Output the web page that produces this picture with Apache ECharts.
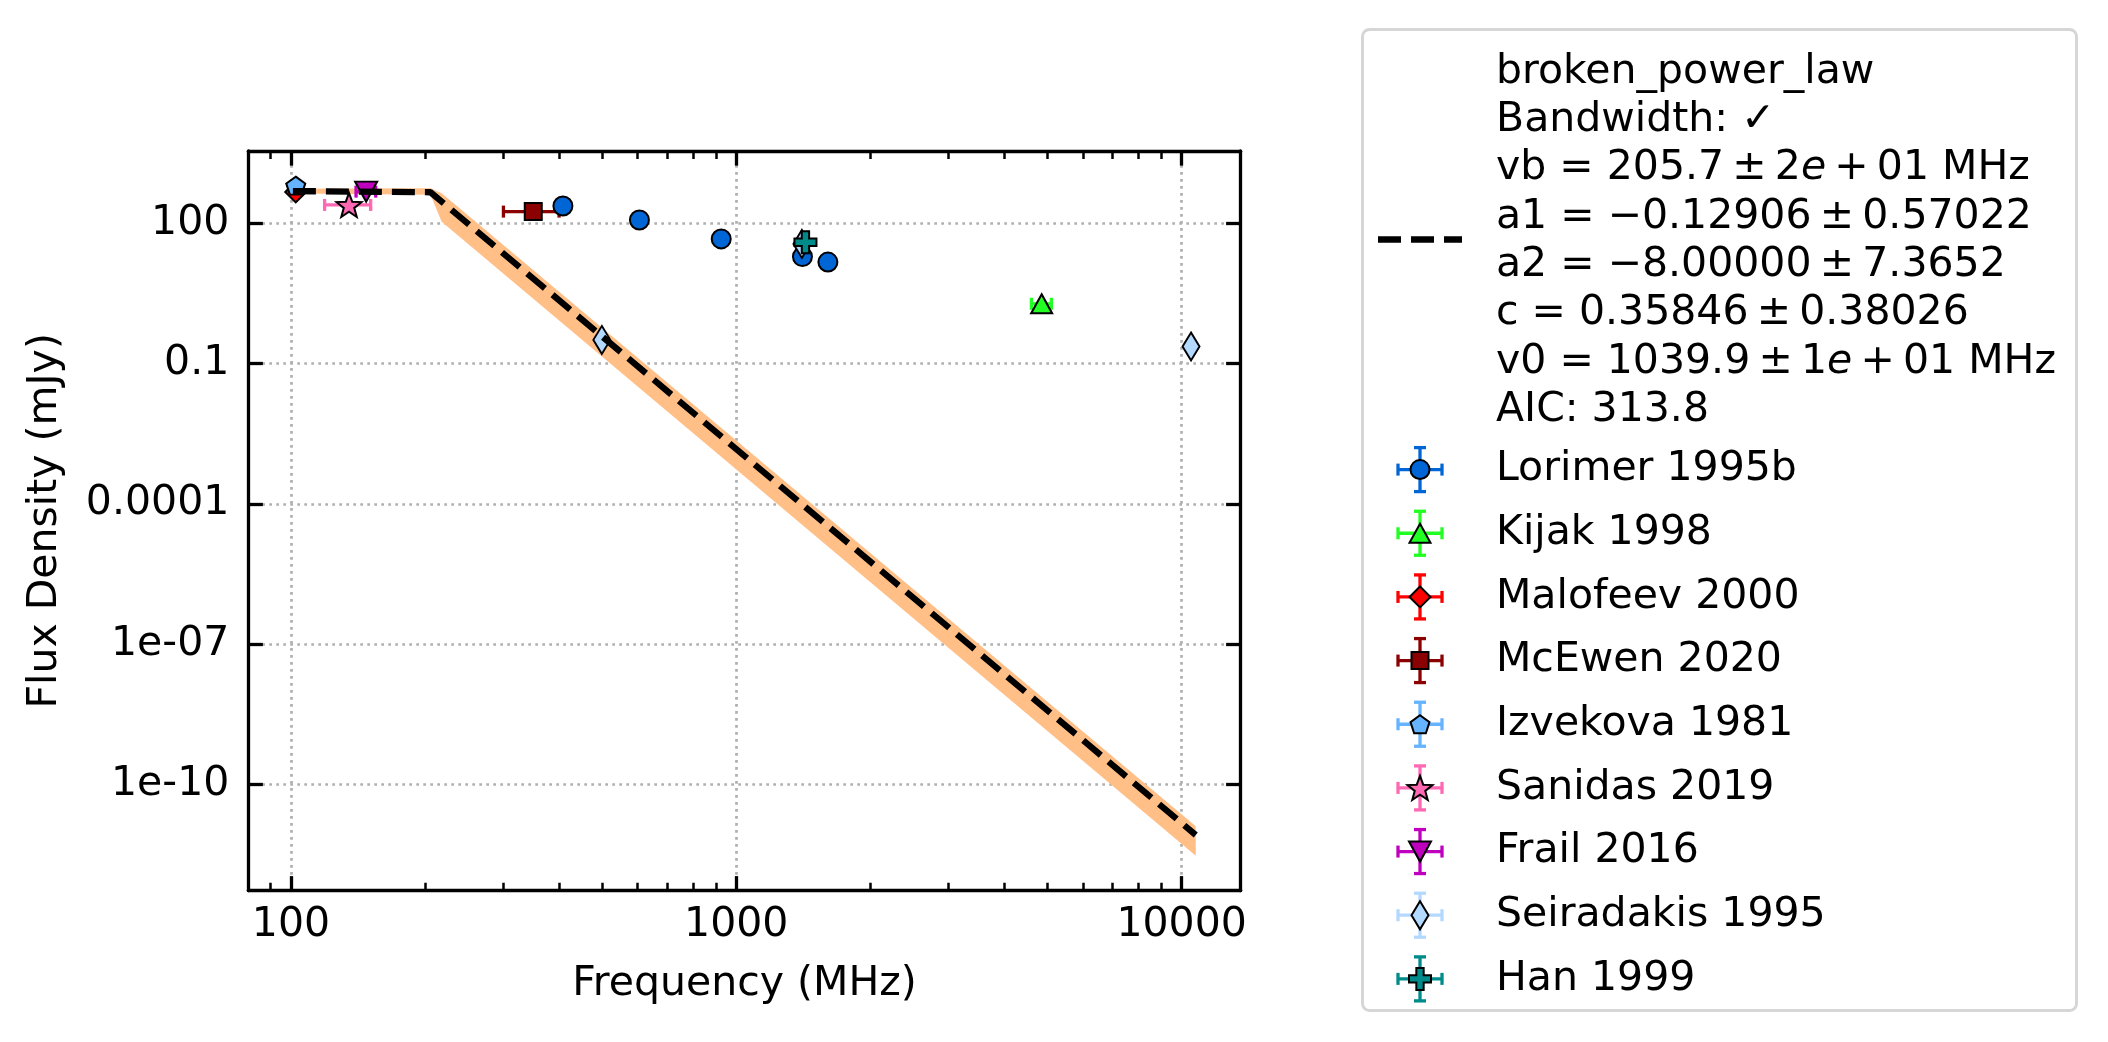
<!DOCTYPE html>
<html>
<head>
<meta charset="utf-8">
<title>broken_power_law fit</title>
<script src="https://cdn.jsdelivr.net/npm/echarts@6/dist/echarts.min.js"></script>
<style>
    html, body { margin: 0; padding: 0; background: #fff; }
    #ecSpectrum { width: 2108px; height: 1042px; }
</style>
</head>
<body>
<div id="ecSpectrum"></div>
<script>
// axis ticks
var xTickValues = [100, 1000, 10000];
var xTickLabels = ['100', '1000', '10000'];
var xMinorTicks = [90, 200, 300, 400, 500, 600, 700, 800, 900,
    2000, 3000, 4000, 5000, 6000, 7000, 8000, 9000];
var yTickValues = [100, 0.1, 0.0001, 1e-7, 1e-10];
var yTickLabels = ['100', '0.1', '0.0001', '1e-07', '1e-10'];

// fitted model and its uncertainty band
var fitFreq = [101, 205.7, 10760];
var fitFlux = [490, 462, 8.25e-12];
var bandFreq = [101, 205.7, 218, 10760];
var bandLow = [437, 407, 108.6, 2.95e-12];
var bandHigh = [550, 562, 440, 1.26e-11];

var fitLabel = [
    'broken_power_law',
    'Bandwidth: \u2713',
    'vb = 205.7\u2009\u00b1\u20092{i|e}\u2009+\u200901 MHz',
    'a1 = \u22120.12906\u2009\u00b1\u20090.57022',
    'a2 = \u22128.00000\u2009\u00b1\u20097.3652',
    'c = 0.35846\u2009\u00b1\u20090.38026',
    'v0 = 1039.9\u2009\u00b1\u20091{i|e}\u2009+\u200901 MHz',
    'AIC: 313.8'
];

// measurements (MHz, mJy)
var lorimerFreq = [408, 606, 925, 1408, 1606];
var lorimerFlux = [235, 118, 46.4, 19.4, 14.8];
var kijakFreq = [4850];
var kijakFlux = [1.9];
var kijakFreqErr = [250];
var malofeevFreq = [102.5];
var malofeevFlux = [469];
var mcewenFreq = [350];
var mcewenFlux = [178];
var mcewenFreqErr = [50];
var izvekovaFreq = [102.5];
var izvekovaFlux = [640];
var sanidasFreq = [135];
var sanidasFlux = [247];
var sanidasFreqErr = [16];
var frailFreq = [147.5];
var frailFlux = [476];
var frailFreqErr = [7.5];
var seiradakisFreq = [499, 1404, 10500];
var seiradakisFlux = [0.32, 36.3, 0.232];
var hanFreq = [1430];
var hanFlux = [39.4];

var datasets = [
    {name: 'Lorimer 1995b', freq: lorimerFreq, flux: lorimerFlux, color: '#0066d6', shape: 'circle', size: [19, 19]},
    {name: 'Kijak 1998', freq: kijakFreq, flux: kijakFlux, freqErr: kijakFreqErr, color: '#22ff22', shape: 'triUp', size: [21, 19]},
    {name: 'Malofeev 2000', freq: malofeevFreq, flux: malofeevFlux, color: '#ff0000', shape: 'diamond', size: [21, 21]},
    {name: 'McEwen 2020', freq: mcewenFreq, flux: mcewenFlux, freqErr: mcewenFreqErr, color: '#8b0000', shape: 'square', size: [17, 17]},
    {name: 'Izvekova 1981', freq: izvekovaFreq, flux: izvekovaFlux, color: '#66b3ff', shape: 'pentagon', size: [19, 18]},
    {name: 'Sanidas 2019', freq: sanidasFreq, flux: sanidasFlux, freqErr: sanidasFreqErr, color: '#ff69b4', shape: 'star', size: [25, 24]},
    {name: 'Frail 2016', freq: frailFreq, flux: frailFlux, freqErr: frailFreqErr, color: '#bf00bf', shape: 'triDown', size: [22, 20]},
    {name: 'Seiradakis 1995', freq: seiradakisFreq, flux: seiradakisFlux, color: '#b3d9ff', shape: 'diamond', size: [17, 28]},
    {name: 'Han 1999', freq: hanFreq, flux: hanFlux, color: '#008b8b', shape: 'plus', size: [22, 22]}
];

var FONT = 'DejaVu Sans';
var FS = 41;

function unitPoints(shape) {
    var pts = [], k, a, r;
    if (shape === 'triUp') return [[0, -1], [1, 1], [-1, 1]];
    if (shape === 'triDown') return [[-1, -1], [1, -1], [0, 1]];
    if (shape === 'diamond') return [[0, -1], [1, 0], [0, 1], [-1, 0]];
    if (shape === 'square') return [[-1, -1], [1, -1], [1, 1], [-1, 1]];
    if (shape === 'plus') {
        var t = 1 / 3;
        return [[-t, -1], [t, -1], [t, -t], [1, -t], [1, t], [t, t], [t, 1], [-t, 1], [-t, t], [-1, t], [-1, -t], [-t, -t]];
    }
    if (shape === 'pentagon') {
        for (k = 0; k < 5; k++) {
            a = (-90 + 72 * k) * Math.PI / 180;
            pts.push([Math.cos(a), Math.sin(a)]);
        }
        return pts;
    }
    if (shape === 'star') {
        for (k = 0; k < 10; k++) {
            a = (-90 + 36 * k) * Math.PI / 180;
            r = k % 2 === 0 ? 1 : 0.42;
            pts.push([r * Math.cos(a), r * Math.sin(a)]);
        }
        return pts;
    }
    return pts;
}

function symbolFor(shape) {
    if (shape === 'circle') return 'circle';
    var pts = unitPoints(shape);
    return 'path://M' + pts.map(function (p) {
        return (p[0] * 100).toFixed(2) + ',' + (p[1] * 100).toFixed(2);
    }).join('L') + 'Z';
}

function fitPoints(pts, cx, cy, w, h) {
    var xs = pts.map(function (p) { return p[0]; });
    var ys = pts.map(function (p) { return p[1]; });
    var x0 = Math.min.apply(null, xs), x1 = Math.max.apply(null, xs);
    var y0 = Math.min.apply(null, ys), y1 = Math.max.apply(null, ys);
    return pts.map(function (p) {
        return [cx + ((p[0] - x0) / (x1 - x0) - 0.5) * w, cy + ((p[1] - y0) / (y1 - y0) - 0.5) * h];
    });
}

function logFormatter(values, labels) {
    return function (v) {
        var e = Math.round(Math.log10(v));
        for (var i = 0; i < values.length; i++) {
            if (Math.round(Math.log10(values[i])) === e) return labels[i];
        }
        return '';
    };
}

function errorBarRenderer(color) {
    return function (params, api) {
        var f = api.value(0), s = api.value(1), fe = api.value(2), se = api.value(3);
        var st = {stroke: color, lineWidth: 3.3};
        var cap = 6;
        var children = [];
        if (fe > 0) {
            var a = api.coord([f - fe, s]), b = api.coord([f + fe, s]);
            children.push({type: 'line', shape: {x1: a[0], y1: a[1], x2: b[0], y2: b[1]}, style: st});
            children.push({type: 'line', shape: {x1: a[0], y1: a[1] - cap, x2: a[0], y2: a[1] + cap}, style: st});
            children.push({type: 'line', shape: {x1: b[0], y1: b[1] - cap, x2: b[0], y2: b[1] + cap}, style: st});
        }
        if (se > 0) {
            var c = api.coord([f, s - se]), d = api.coord([f, s + se]);
            children.push({type: 'line', shape: {x1: c[0], y1: c[1], x2: d[0], y2: d[1]}, style: st});
            children.push({type: 'line', shape: {x1: c[0] - cap, y1: c[1], x2: c[0] + cap, y2: c[1]}, style: st});
            children.push({type: 'line', shape: {x1: d[0] - cap, y1: d[1], x2: d[0] + cap, y2: d[1]}, style: st});
        }
        return {type: 'group', children: children};
    };
}

// ---- series ----
var series = [];

series.push({
    name: 'band',
    type: 'custom',
    encode: {x: 0, y: [1, 2]},
    data: bandFreq.map(function (f, i) { return [f, bandLow[i], bandHigh[i]]; }),
    renderItem: function (params, api) {
        if (params.dataIndex !== 0) return null;
        var pts = [], i;
        for (i = 0; i < bandFreq.length; i++) pts.push(api.coord([bandFreq[i], bandHigh[i]]));
        for (i = bandFreq.length - 1; i >= 0; i--) pts.push(api.coord([bandFreq[i], bandLow[i]]));
        return {type: 'polygon', shape: {points: pts}, style: {fill: '#ffbf86'}};
    },
    silent: true
});

series.push({
    name: 'broken_power_law',
    type: 'line',
    data: fitFreq.map(function (f, i) { return [f, fitFlux[i]]; }),
    symbol: 'none',
    lineStyle: {color: '#000', width: 6.3, type: [23, 10], cap: 'butt'},
    silent: true
});

datasets.forEach(function (ds) {
    series.push({
        name: ds.name + ' err',
        type: 'custom',
        encode: {x: 0, y: 1},
        data: ds.freq.map(function (f, i) {
            return [f, ds.flux[i], ds.freqErr ? ds.freqErr[i] : 0, 0];
        }),
        renderItem: errorBarRenderer(ds.color),
        silent: true
    });
    series.push({
        name: ds.name,
        type: 'scatter',
        data: ds.freq.map(function (f, i) { return [f, ds.flux[i]]; }),
        symbol: symbolFor(ds.shape),
        symbolSize: ds.size,
        itemStyle: {color: ds.color, borderColor: '#000', borderWidth: 2, opacity: 1},
        silent: true
    });
});

// ---- legend (drawn like the matplotlib legend box) ----
var legendItems = [
    {type: 'rect', shape: {x: 1362.5, y: 29.5, width: 714, height: 981, r: 7},
        style: {fill: '#fff', stroke: '#d6d6d6', lineWidth: 3}},
    {type: 'line', shape: {x1: 1378, y1: 239.5, x2: 1462, y2: 239.5},
        style: {stroke: '#000', lineWidth: 6.3, lineDash: [23, 10]}},
    {type: 'text', x: 1496, y: 48,
        style: {text: fitLabel.join('\n'), fontFamily: FONT, fontSize: FS, fill: '#000', lineHeight: 48.3,
            rich: {i: {fontFamily: FONT, fontSize: FS, fontStyle: 'italic', fill: '#000', lineHeight: 48.3}}}}
];

datasets.forEach(function (ds, i) {
    var cx = 1420, cy = 469.6 + 63.66 * i, arm = 22, cap = 6;
    var st = {stroke: ds.color, lineWidth: 3.3};
    legendItems.push({type: 'line', shape: {x1: cx - arm, y1: cy, x2: cx + arm, y2: cy}, style: st});
    legendItems.push({type: 'line', shape: {x1: cx, y1: cy - arm, x2: cx, y2: cy + arm}, style: st});
    legendItems.push({type: 'line', shape: {x1: cx - arm, y1: cy - cap, x2: cx - arm, y2: cy + cap}, style: st});
    legendItems.push({type: 'line', shape: {x1: cx + arm, y1: cy - cap, x2: cx + arm, y2: cy + cap}, style: st});
    legendItems.push({type: 'line', shape: {x1: cx - cap, y1: cy - arm, x2: cx + cap, y2: cy - arm}, style: st});
    legendItems.push({type: 'line', shape: {x1: cx - cap, y1: cy + arm, x2: cx + cap, y2: cy + arm}, style: st});
    var mstyle = {fill: ds.color, stroke: '#000', lineWidth: 2};
    if (ds.shape === 'circle') {
        legendItems.push({type: 'circle', shape: {cx: cx, cy: cy, r: ds.size[0] / 2}, style: mstyle});
    } else {
        legendItems.push({type: 'polygon', shape: {points: fitPoints(unitPoints(ds.shape), cx, cy, ds.size[0], ds.size[1])}, style: mstyle});
    }
    legendItems.push({type: 'text', x: 1496, y: cy,
        style: {text: ds.name, fontFamily: FONT, fontSize: FS, fill: '#000', verticalAlign: 'middle'}});
});

legendItems.forEach(function (g) { g.z = 100; g.silent = true; });

// ---- axes ----
var xMin = 80.2, xMax = 13575;
var yMin = 5.3e-13, yMax = 3524;
var labelFont = {fontFamily: FONT, fontSize: FS, color: '#000'};
var gridLine = {show: true, lineStyle: {color: '#b0b0b0', width: 2.7, type: [2.7, 4.3]}};

function logAxis(position, opts) {
    var ax = {
        type: 'log',
        position: position,
        axisLine: {show: true, onZero: false, lineStyle: {color: '#000', width: 3.3}},
        axisTick: {show: true, inside: true, length: 14.6, lineStyle: {color: '#000', width: 3.3}},
        axisLabel: {show: false},
        splitLine: {show: false},
        minorTick: {show: false}
    };
    for (var k in opts) ax[k] = opts[k];
    return ax;
}

var xAxes = [
    logAxis('bottom', {
        min: xMin, max: xMax,
        name: 'Frequency (MHz)', nameLocation: 'middle', nameGap: 73, nameTextStyle: labelFont,
        axisTick: {show: true, inside: true, length: 14.6, lineStyle: {color: '#000', width: 3.3}, customValues: xTickValues},
        axisLabel: {show: true, customValues: xTickValues, formatter: logFormatter(xTickValues, xTickLabels),
            margin: 14, fontFamily: FONT, fontSize: FS, color: '#000'},
        splitLine: gridLine
    }),
    logAxis('bottom', {
        min: xMin, max: xMax,
        axisLine: {show: false},
        axisTick: {show: true, inside: true, length: 8, lineStyle: {color: '#000', width: 2.5}, customValues: xMinorTicks}
    }),
    logAxis('top', {
        min: xMin, max: xMax,
        axisTick: {show: true, inside: true, length: 14.6, lineStyle: {color: '#000', width: 3.3}, customValues: xTickValues}
    }),
    logAxis('top', {
        min: xMin, max: xMax,
        axisLine: {show: false},
        axisTick: {show: true, inside: true, length: 8, lineStyle: {color: '#000', width: 2.5}, customValues: xMinorTicks}
    })
];

var yAxes = [
    logAxis('left', {
        min: yMin, max: yMax,
        name: 'Flux Density (mJy)', nameLocation: 'middle', nameGap: 182, nameTextStyle: labelFont,
        axisTick: {show: true, inside: true, length: 14.6, lineStyle: {color: '#000', width: 3.3}, customValues: yTickValues},
        axisLabel: {show: true, customValues: yTickValues, formatter: logFormatter(yTickValues, yTickLabels),
            margin: 19, fontFamily: FONT, fontSize: FS, color: '#000'},
        splitLine: gridLine
    }),
    logAxis('right', {
        min: yMin, max: yMax,
        axisTick: {show: true, inside: true, length: 14.6, lineStyle: {color: '#000', width: 3.3}, customValues: yTickValues}
    })
];

getechart('ecSpectrum', {
    animation: false,
    backgroundColor: '#fff',
    textStyle: {fontFamily: FONT},
    grid: {left: 248.3, right: 867.3, top: 151, bottom: 151.3},
    xAxis: xAxes,
    yAxis: yAxes,
    series: series,
    graphic: legendItems
});

function getechart(idName, option) {
    var chart = echarts.init(document.getElementById(idName));
    chart.setOption(option);
    window.addEventListener('resize', function () {
        chart.resize();
    });
}
</script>
</body>
</html>
